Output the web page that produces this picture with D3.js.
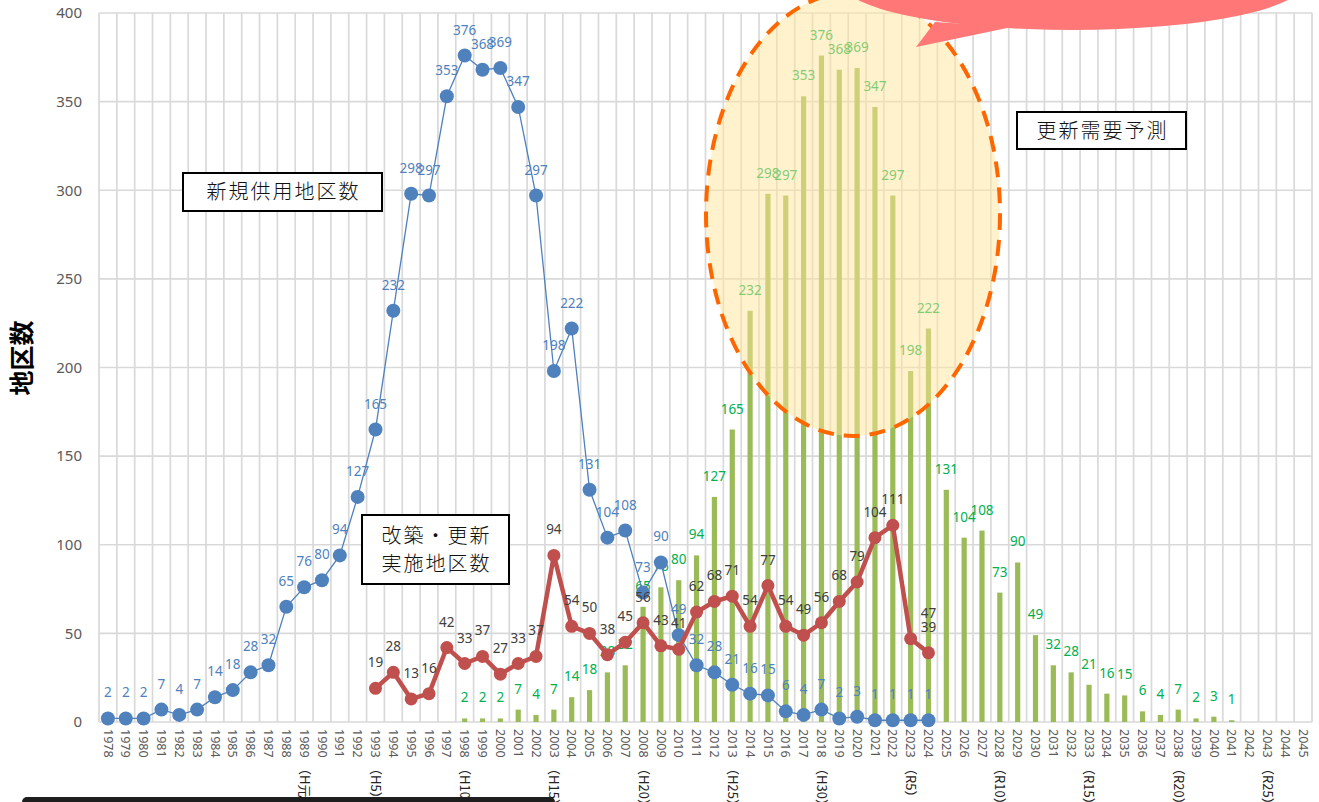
<!DOCTYPE html>
<html>

<head>
    <meta charset="utf-8">
    <script src="https://cdn.jsdelivr.net/npm/d3@7/dist/d3.min.js"></script>
    <style>
        body { margin: 0; background: #fff; }
        text { font-family: "Noto Sans", "Open Sans", sans-serif; }
        .jp { font-family: "Noto Sans CJK JP", sans-serif; }
    </style>
</head>

<body>
    <div id="my_dataviz"></div>
    <script>

        // categories (years)
        var years = ["1978", "1979", "1980", "1981", "1982", "1983", "1984", "1985", "1986", "1987",
            "1988", "1989", "1990", "1991", "1992", "1993", "1994", "1995", "1996", "1997",
            "1998", "1999", "2000", "2001", "2002", "2003", "2004", "2005", "2006", "2007",
            "2008", "2009", "2010", "2011", "2012", "2013", "2014", "2015", "2016", "2017",
            "2018", "2019", "2020", "2021", "2022", "2023", "2024", "2025", "2026", "2027",
            "2028", "2029", "2030", "2031", "2032", "2033", "2034", "2035", "2036", "2037",
            "2038", "2039", "2040", "2041", "2042", "2043", "2044", "2045"];

        // era labels under some years
        var eraYears = ["1989", "1993", "1998", "2003", "2008", "2013", "2018", "2023", "2028", "2033", "2038", "2043"];
        var eraLabels = ["（H元）", "（H5）", "（H10）", "（H15）", "（H20）", "（H25）", "（H30）", "（R5）", "（R10）", "（R15）", "（R20）", "（R25）"];

        // 新規供用地区数 1978-2024
        var newYears = years.slice(0, 47);
        var newValues = [2, 2, 2, 7, 4, 7, 14, 18, 28, 32,
            65, 76, 80, 94, 127, 165, 232, 298, 297, 353,
            376, 368, 369, 347, 297, 198, 222, 131, 104, 108,
            73, 90, 49, 32, 28, 21, 16, 15, 6, 4,
            7, 2, 3, 1, 1, 1, 1];

        // 改築・更新実施地区数 1993-2024
        var renewYears = years.slice(15, 47);
        var renewValues = [19, 28, 13, 16, 42, 33, 37, 27, 33, 37,
            94, 54, 50, 38, 45, 56, 43, 41, 62, 68,
            71, 54, 77, 54, 49, 56, 68, 79, 104, 111,
            47, 39];

        // 更新需要予測 1998-2041 (bars)
        var demandYears = years.slice(20, 64);
        var demandValues = [2, 2, 2, 7, 4, 7, 14, 18, 28, 32,
            65, 76, 80, 94, 127, 165, 232, 298, 297, 353,
            376, 368, 369, 347, 297, 198, 222, 131, 104, 108,
            73, 90, 49, 32, 28, 21, 16, 15, 6, 4,
            7, 2, 3, 1];

        var yTicks = [0, 50, 100, 150, 200, 250, 300, 350, 400];

        var margin = { top: 13, right: 7, bottom: 80, left: 99 },
            width = 1319 - margin.left - margin.right,
            height = 802 - margin.top - margin.bottom;

        var root = d3.select("#my_dataviz")
            .append("svg")
            .attr("width", 1319)
            .attr("height", 802);

        var svg = root.append("g")
            .attr("transform", "translate(" + margin.left + "," + margin.top + ")");

        var x = d3.scaleBand()
            .domain(years)
            .range([0, width]);
        var cx = function (d) { return x(d) + x.bandwidth() / 2; };

        var y = d3.scaleLinear()
            .domain([0, 400])
            .range([height, 0]);

        // grid
        var grid = svg.append("g").attr("stroke", "#d9d9d9").attr("stroke-width", 1.7);
        grid.selectAll(".h")
            .data(yTicks)
            .enter().append("line")
            .attr("x1", 0).attr("x2", width)
            .attr("y1", function (d) { return y(d); })
            .attr("y2", function (d) { return y(d); });
        grid.selectAll(".v")
            .data(years.concat(["end"]))
            .enter().append("line")
            .attr("x1", function (d, i) { return i * x.bandwidth(); })
            .attr("x2", function (d, i) { return i * x.bandwidth(); })
            .attr("y1", 0).attr("y2", height);

        // y axis labels
        svg.append("g")
            .selectAll("text")
            .data(yTicks)
            .enter().append("text")
            .attr("x", -17)
            .attr("y", function (d) { return y(d); })
            .attr("dy", "0.35em")
            .attr("text-anchor", "end")
            .style("font-size", "15px")
            .style("fill", "#595959")
            .text(function (d) { return d; });

        // x axis labels
        svg.append("g")
            .selectAll("text")
            .data(years)
            .enter().append("text")
            .attr("transform", function (d) { return "translate(" + cx(d) + "," + (height + 7) + ")rotate(90)"; })
            .attr("dy", "0.35em")
            .style("font-size", "12.5px")
            .style("fill", "#595959")
            .text(function (d) { return d; });

        svg.append("g")
            .selectAll("text")
            .data(eraYears)
            .enter().append("text")
            .attr("class", "jp")
            .attr("transform", function (d) { return "translate(" + cx(d) + "," + (height + 40) + ")rotate(90)"; })
            .attr("dy", "0.35em")
            .style("font-size", "13px")
            .style("fill", "#222")
            .text(function (d, i) { return eraLabels[i]; });

        // bars
        svg.append("g")
            .selectAll("rect")
            .data(demandValues)
            .enter().append("rect")
            .attr("x", function (d, i) { return cx(demandYears[i]) - 2.6; })
            .attr("y", function (d) { return y(d); })
            .attr("width", 5.2)
            .attr("height", function (d) { return height - y(d); })
            .attr("fill", "#9bbb59");

        svg.append("g")
            .selectAll("text")
            .data(demandValues)
            .enter().append("text")
            .attr("x", function (d, i) { return cx(demandYears[i]); })
            .attr("y", function (d) { return y(d) - 16; })
            .attr("text-anchor", "middle")
            .style("font-size", "13.5px")
            .style("fill", "#00b050")
            .text(function (d) { return d; });

        // forecast ellipse
        svg.append("ellipse")
            .attr("cx", 853 - margin.left)
            .attr("cy", 214 - margin.top)
            .attr("rx", 147)
            .attr("ry", 222)
            .attr("fill", "#ffe699")
            .attr("fill-opacity", 0.5)
            .attr("stroke", "#ff6600")
            .attr("stroke-width", 4)
            .attr("stroke-dasharray", "16,10");

        // 新規供用 line
        var line = d3.line()
            .x(function (d) { return cx(d[0]); })
            .y(function (d) { return y(d[1]); });

        var newData = newYears.map(function (d, i) { return [d, newValues[i]]; });
        svg.append("path")
            .datum(newData)
            .attr("d", line)
            .attr("fill", "none")
            .attr("stroke", "#4f81bd")
            .attr("stroke-width", 1.3);
        svg.append("g")
            .selectAll("circle")
            .data(newData)
            .enter().append("circle")
            .attr("cx", function (d) { return cx(d[0]); })
            .attr("cy", function (d) { return y(d[1]); })
            .attr("r", 7)
            .attr("fill", "#4f81bd");
        svg.append("g")
            .selectAll("text")
            .data(newData)
            .enter().append("text")
            .attr("x", function (d) { return cx(d[0]); })
            .attr("y", function (d) { return y(d[1]) - 21; })
            .attr("text-anchor", "middle")
            .style("font-size", "13.5px")
            .style("fill", "#4f81bd")
            .text(function (d) { return d[1]; });

        // 改築・更新 line
        var renewData = renewYears.map(function (d, i) { return [d, renewValues[i]]; });
        svg.append("path")
            .datum(renewData)
            .attr("d", line)
            .attr("fill", "none")
            .attr("stroke", "#c0504d")
            .attr("stroke-width", 4.5)
            .attr("stroke-linejoin", "round");
        svg.append("g")
            .selectAll("circle")
            .data(renewData)
            .enter().append("circle")
            .attr("cx", function (d) { return cx(d[0]); })
            .attr("cy", function (d) { return y(d[1]); })
            .attr("r", 6.5)
            .attr("fill", "#c0504d");
        svg.append("g")
            .selectAll("text")
            .data(renewData)
            .enter().append("text")
            // the 2023 label sits pushed right next to the 2024 one
            .attr("x", function (d) { return cx(d[0]) + (d[0] === "2023" ? x.bandwidth() : 0); })
            .attr("y", function (d) { return y(d[1]) - 21; })
            .attr("text-anchor", "middle")
            .style("font-size", "13.5px")
            .style("fill", "#404040")
            .text(function (d) { return d[1]; });

        // label boxes
        function box(x0, y0, w, h, lines) {
            root.append("rect")
                .attr("x", x0).attr("y", y0).attr("width", w).attr("height", h)
                .attr("fill", "#fff").attr("stroke", "#000").attr("stroke-width", 2);
            lines.forEach(function (t, i) {
                root.append("text")
                    .attr("class", "jp")
                    .attr("x", x0 + w / 2 + 1)
                    .attr("y", y0 + h / 2 + (i - (lines.length - 1) / 2) * 28)
                    .attr("dy", "0.36em")
                    .attr("text-anchor", "middle")
                    .style("font-size", "20px")
                    .style("letter-spacing", "2px")
                    .style("font-weight", 300)
                    .style("fill", "#111")
                    .text(t);
            });
        }
        box(183, 173, 199, 38, ["新規供用地区数"]);
        box(362, 515, 147, 69, ["改築・更新", "実施地区数"]);
        box(1017, 112, 169, 37, ["更新需要予測"]);

        // callout bubble (top right, cut off)
        var bubble = root.append("g").attr("fill", "#ff7777");
        bubble.append("ellipse")
            .attr("cx", 1073).attr("cy", -18).attr("rx", 232).attr("ry", 48);
        bubble.append("path")
            .attr("d", "M935,22 L916,47 L1012,27 Z");

        // y axis title
        root.append("text")
            .attr("class", "jp")
            .attr("transform", "translate(22,358)rotate(-90)")
            .attr("dy", "0.35em")
            .attr("text-anchor", "middle")
            .style("font-size", "25px")
            .style("font-weight", "bold")
            .style("fill", "#000")
            .text("地区数");

        // dark strip at bottom left
        root.append("rect")
            .attr("x", 22).attr("y", 797).attr("width", 533).attr("height", 20)
            .attr("rx", 5)
            .attr("fill", "#1e1e1e");

    </script>
</body>

</html>
